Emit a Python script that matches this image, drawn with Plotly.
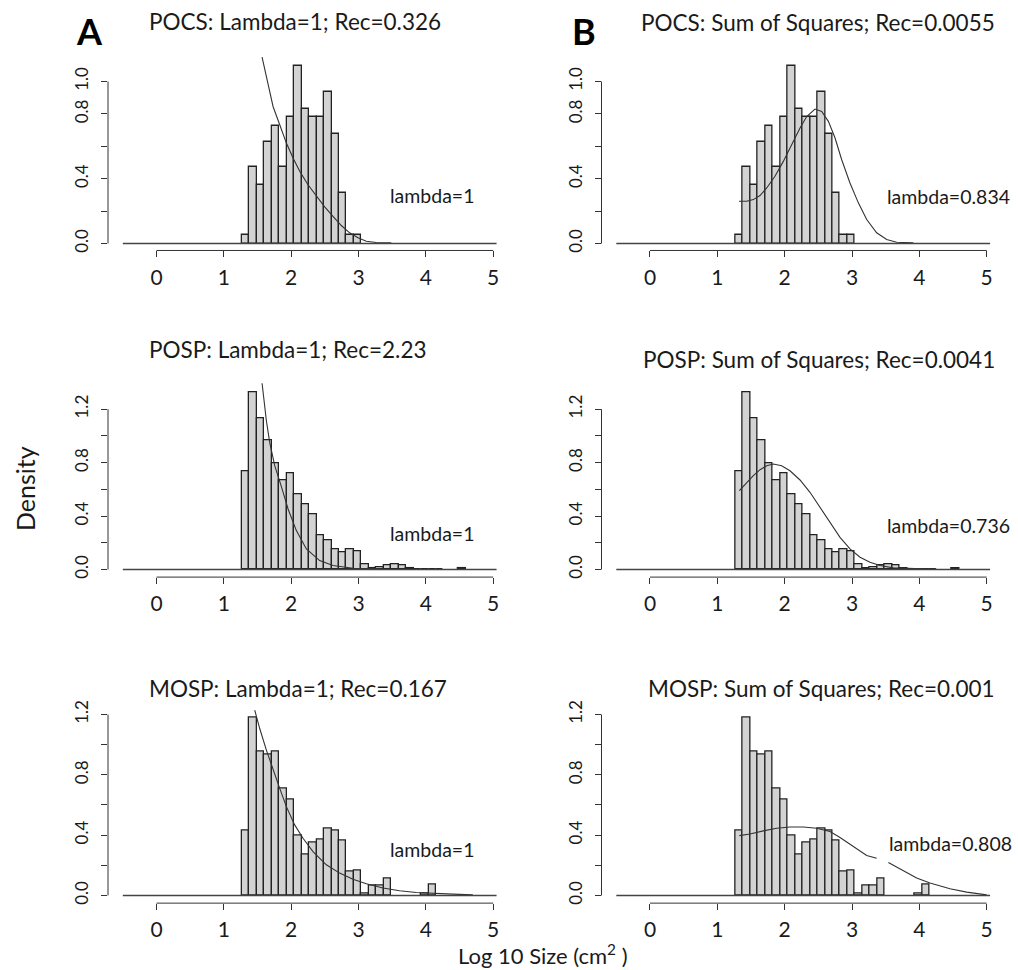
import plotly.graph_objects as go

W, H = 1018, 970

# ---------------- data ----------------
bin_start = 1.27
bin_width = 0.1108

pocs_density = [0.051, 0.472, 0.363, 0.628, 0.729, 0.476, 0.780, 1.097, 0.830, 0.780,
                0.780, 0.936, 0.678, 0.312, 0.051, 0.051]
posp_density = [0.734, 1.324, 1.130, 0.971, 0.797, 0.665, 0.722, 0.563, 0.490, 0.416,
                0.254, 0.217, 0.154, 0.129, 0.154, 0.134, 0.042, 0.010, 0.015, 0.030,
                0.042, 0.030, 0.007, 0.005, 0.005, 0.005, 0.005, 0.0, 0.0, 0.007]
mosp_density = [0.428, 1.178, 0.957, 0.935, 0.953, 0.706, 0.633, 0.397, 0.269, 0.353,
                0.368, 0.441, 0.428, 0.364, 0.159, 0.168, 0.015, 0.064, 0.064, 0.115,
                0.0, 0.0, 0.0, 0.0, 0.015, 0.071]

# fitted curves, lambda = 1 (column A)
pocs_a_x = [1.568, 1.632, 1.731, 1.830, 1.929, 2.028, 2.127, 2.250, 2.374, 2.498, 2.621,
            2.745, 2.868, 2.992, 3.116, 3.264, 3.487]
pocs_a_y = [1.150, 1.031, 0.846, 0.733, 0.620, 0.528, 0.446, 0.363, 0.292, 0.226, 0.168,
            0.111, 0.066, 0.035, 0.014, 0.006, 0.004]
posp_a_x = [1.568, 1.597, 1.632, 1.681, 1.756, 1.855, 1.954, 2.077, 2.226, 2.423, 2.621,
            2.918, 3.363, 4.253]
posp_a_y = [1.394, 1.250, 1.113, 0.951, 0.777, 0.620, 0.453, 0.291, 0.154, 0.067, 0.030,
            0.010, 0.002, 0.0]
mosp_a_x = [1.459, 1.533, 1.632, 1.731, 1.830, 1.929, 2.052, 2.176, 2.324, 2.522, 2.720,
            2.918, 3.116, 3.363, 3.610, 3.858, 4.105, 4.402, 4.698]
mosp_a_y = [1.229, 1.107, 0.964, 0.832, 0.710, 0.589, 0.468, 0.379, 0.291, 0.203, 0.148,
            0.108, 0.077, 0.049, 0.031, 0.020, 0.013, 0.009, 0.004]

# fitted curves, sum of squares (column B)
pocs_b_x = [1.322, 1.436, 1.535, 1.634, 1.733, 1.856, 1.980, 2.104, 2.228, 2.327, 2.450,
            2.550, 2.649, 2.748, 2.847, 2.970, 3.094, 3.218, 3.366, 3.515, 3.663, 3.911]
pocs_b_y = [0.261, 0.261, 0.271, 0.296, 0.343, 0.415, 0.507, 0.610, 0.713, 0.784, 0.830,
            0.815, 0.754, 0.651, 0.517, 0.374, 0.251, 0.148, 0.066, 0.025, 0.008, 0.004]
posp_b_x = [1.327, 1.436, 1.535, 1.634, 1.733, 1.832, 1.955, 2.079, 2.228, 2.376, 2.525,
            2.673, 2.822, 2.970, 3.119, 3.267, 3.416, 3.614, 3.911, 4.257]
posp_b_y = [0.590, 0.652, 0.702, 0.747, 0.777, 0.789, 0.777, 0.739, 0.670, 0.578, 0.466,
            0.354, 0.241, 0.154, 0.092, 0.055, 0.030, 0.012, 0.005, 0.002]
mosp_b_x = [1.327, 1.485, 1.683, 1.881, 2.079, 2.277, 2.475, 2.673, 2.822, 3.020, 3.218,
            3.366, None, 3.540, 3.713, 3.960, 4.158, 4.455, 4.703, 5.000]
mosp_b_y = [0.397, 0.408, 0.428, 0.446, 0.454, 0.454, 0.446, 0.424, 0.384, 0.324, 0.265,
            0.247, None, 0.218, 0.176, 0.115, 0.082, 0.044, 0.022, 0.004]

x_ticks = [0, 1, 2, 3, 4, 5]
y_ticks_top = [0.0, 0.4, 0.8, 1.0]
y_minor_top = [0.2, 0.6]
y_ticks_low = [0.0, 0.4, 0.8, 1.2]
y_minor_low = [0.2, 0.6, 1.0]

titles = [
    "POCS: Lambda=1; Rec=0.326", "POCS: Sum of Squares; Rec=0.0055",
    "POSP: Lambda=1; Rec=2.23", "POSP: Sum of Squares; Rec=0.0041",
    "MOSP: Lambda=1; Rec=0.167", "MOSP: Sum of Squares; Rec=0.001",
]
lambda_labels = ["lambda=1", "lambda=0.834", "lambda=1", "lambda=0.736",
                 "lambda=1", "lambda=0.808"]

# ---------------- layout geometry (pixels) ----------------
FONT = "Lato"
INK = "#1a1a1a"

col_px = [(108, 508), (601.5, 1001.5)]
x_range = [-0.72, 5.22]
# (top px, bottom px, y range)
row_geo = [
    (50, 251, [-0.0431, 1.1953]),
    (376, 578.3, [-0.0568, 1.454]),
    (702, 905, [-0.051, 1.2925]),
]

def px_x(p):
    return p / W

def px_y(p):
    return 1 - p / H

panels = [
    (0, 0, pocs_density, pocs_a_x, pocs_a_y, y_ticks_top, y_minor_top),
    (0, 1, pocs_density, pocs_b_x, pocs_b_y, y_ticks_top, y_minor_top),
    (1, 0, posp_density, posp_a_x, posp_a_y, y_ticks_low, y_minor_low),
    (1, 1, posp_density, posp_b_x, posp_b_y, y_ticks_low, y_minor_low),
    (2, 0, mosp_density, mosp_a_x, mosp_a_y, y_ticks_low, y_minor_low),
    (2, 1, mosp_density, mosp_b_x, mosp_b_y, y_ticks_low, y_minor_low),
]

fig = go.Figure()
layout = dict(
    width=W, height=H, autosize=False,
    margin=dict(l=0, r=0, t=0, b=0),
    paper_bgcolor="white", plot_bgcolor="white",
    showlegend=False, bargap=0,
    font=dict(family=FONT, color=INK),
)
shapes = []
annotations = []

for i, (r, c, dens, cx, cy, yt, ym) in enumerate(panels):
    n = i + 1
    xa = "x" if n == 1 else f"x{n}"
    ya = "y" if n == 1 else f"y{n}"
    x0p, x1p = col_px[c]
    t_px, b_px, yr = row_geo[r]
    xdom = [px_x(x0p), px_x(x1p)]
    ydom = [px_y(b_px), px_y(t_px)]

    centers = [bin_start + (k + 0.5) * bin_width for k in range(len(dens))]
    keep = [k for k, v in enumerate(dens) if v > 0]
    fig.add_trace(go.Bar(
        x=[centers[k] for k in keep], y=[dens[k] for k in keep],
        width=bin_width, xaxis=xa, yaxis=ya,
        marker=dict(color="#d3d3d3", line=dict(color="#222222", width=1.3)),
        hoverinfo="skip",
    ))
    fig.add_trace(go.Scatter(
        x=cx, y=cy, mode="lines", xaxis=xa, yaxis=ya,
        line=dict(color="#333333", width=1.1), connectgaps=False,
        hoverinfo="skip",
    ))
    # baseline
    fig.add_trace(go.Scatter(
        x=[-0.5, 5.05], y=[0, 0], mode="lines", xaxis=xa, yaxis=ya,
        line=dict(color="#444444", width=1.4), hoverinfo="skip",
    ))

    layout["xaxis" if n == 1 else f"xaxis{n}"] = dict(
        domain=xdom, range=x_range, anchor=ya,
        tickvals=x_ticks, ticktext=[str(v) for v in x_ticks],
        ticks="outside", ticklen=6, tickcolor="#333333", tickwidth=1,
        showgrid=False, zeroline=False, showline=False,
        tickfont=dict(family=FONT, size=21, color=INK),
        ticklabelstandoff=2, fixedrange=True,
    )
    layout["yaxis" if n == 1 else f"yaxis{n}"] = dict(
        domain=ydom, range=yr, anchor=xa,
        tickvals=yt, ticktext=[f"{v:.1f}" for v in yt], tickangle=-90,
        ticks="outside", ticklen=6, tickcolor="#333333", tickwidth=1,
        minor=dict(tickvals=ym, ticks="outside", ticklen=6, tickcolor="#333333",
                   tickwidth=1, showgrid=False),
        showgrid=False, zeroline=False, showline=False,
        tickfont=dict(family=FONT, size=17, color=INK),
        ticklabelstandoff=6, fixedrange=True,
    )

    # R-style axis lines spanning only the tick range
    def dx(v):
        return xdom[0] + (v - x_range[0]) / (x_range[1] - x_range[0]) * (xdom[1] - xdom[0])

    def dy(v):
        return ydom[0] + (v - yr[0]) / (yr[1] - yr[0]) * (ydom[1] - ydom[0])

    shapes.append(dict(type="line", xref="paper", yref="paper",
                       x0=dx(x_ticks[0]), x1=dx(x_ticks[-1]), y0=ydom[0], y1=ydom[0],
                       line=dict(color="#333333", width=1)))
    shapes.append(dict(type="line", xref="paper", yref="paper",
                       x0=xdom[0], x1=xdom[0], y0=dy(yt[0]), y1=dy(yt[-1]),
                       line=dict(color="#333333", width=1)))

# titles
title_pos = [(147, 22, "left"), (997, 22.5, "right"),
             (147, 350, "left"), (997, 360, "right"),
             (147, 689.5, "left"), (997, 689.5, "right")]
for txt, (tx, ty, anc) in zip(titles, title_pos):
    annotations.append(dict(text=txt, x=px_x(tx), y=px_y(ty), xref="paper", yref="paper",
                            xanchor=anc, yanchor="middle", showarrow=False,
                            font=dict(family=FONT, size=22.5, color=INK)))

lam_pos = [(388, 195.7, "left"), (1012, 196.7, "right"), (388, 535, "left"),
           (1012, 526.7, "right"), (388, 851.7, "left"), (1014, 845, "right")]
for txt, (lx, ly, anc) in zip(lambda_labels, lam_pos):
    annotations.append(dict(text=txt, x=px_x(lx), y=px_y(ly), xref="paper", yref="paper",
                            xanchor=anc, yanchor="middle", showarrow=False,
                            font=dict(family=FONT, size=19.5, color=INK)))

for txt, (px_, py_) in zip(["A", "B"], [(89, 31.5), (584, 31)]):
    annotations.append(dict(text=f"<b>{txt}</b>", x=px_x(px_), y=px_y(py_), xref="paper",
                            yref="paper", xanchor="center", yanchor="middle", showarrow=False,
                            font=dict(family=FONT, size=36, color="#000000")))

annotations.append(dict(text="Density", x=px_x(25), y=px_y(490), xref="paper", yref="paper",
                        xanchor="center", yanchor="middle", showarrow=False, textangle=-90,
                        font=dict(family=FONT, size=25, color=INK)))
annotations.append(dict(text="Log 10 Size (cm<sup>2</sup> )", x=px_x(543), y=px_y(956),
                        xref="paper", yref="paper", xanchor="center", yanchor="middle",
                        showarrow=False, borderpad=0,
                        font=dict(family=FONT, size=22, color=INK)))

layout["shapes"] = shapes
layout["annotations"] = annotations
fig.update_layout(**layout)
fig.write_html("out.html")
